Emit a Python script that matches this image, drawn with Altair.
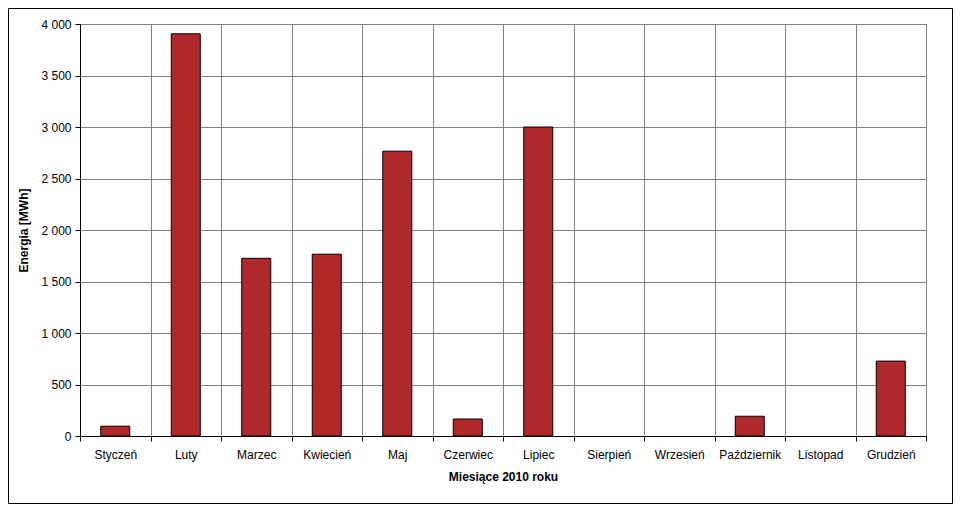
import altair as alt
import pandas as pd

months = ["Styczeń", "Luty", "Marzec", "Kwiecień", "Maj", "Czerwiec", "Lipiec",
          "Sierpień", "Wrzesień", "Październik", "Listopad", "Grudzień"]
values = [95, 3905, 1725, 1765, 2765, 165, 3000, 0, 0, 192, 0, 727]
y_ticks = [0, 500, 1000, 1500, 2000, 2500, 3000, 3500, 4000]

df = pd.DataFrame({"miesiac": months, "energia": values})
FONT = "Liberation Sans"

bars = alt.Chart(df).transform_filter(
    "datum.energia > 0"
).mark_bar(
    size=29, color="#B0292A", stroke="black", strokeWidth=1
).encode(
    x=alt.X("miesiac:N", sort=months,
            scale=alt.Scale(domain=months, paddingInner=0, paddingOuter=0),
            axis=alt.Axis(title="Miesiące 2010 roku", tickBand="extent", labelAngle=0,
                          grid=True, gridColor="#808080", gridWidth=1,
                          domainColor="black", tickColor="black", tickSize=5,
                          labelPadding=8, titlePadding=11)),
    y=alt.Y("energia:Q", scale=alt.Scale(domain=[0, 4000], nice=False),
            axis=alt.Axis(title="Energia [MWh]", values=y_ticks,
                          labelExpr="replace(format(datum.value, ',d'), ',', ' ')",
                          grid=True, gridColor="#808080", gridWidth=1,
                          domainColor="black", tickColor="black", tickSize=5,
                          labelPadding=4, titlePadding=10)),
)

frame = alt.Chart(pd.DataFrame({"a": [0]})).mark_rect(
    fill="transparent", stroke="black", strokeWidth=1
).encode(
    x=alt.value(-71.5), x2=alt.value(872.5), y=alt.value(-15.5), y2=alt.value(479.5)
)

chart = alt.layer(bars, frame).properties(
    width=846, height=412,
    autosize=alt.AutoSizeParams(type="none"),
    padding={"left": 72, "top": 16, "right": 27, "bottom": 68},
    background="white",
).configure_view(
    stroke="black", strokeWidth=1
).configure_axis(
    labelFont=FONT, labelFontSize=12, labelColor="black",
    titleFont=FONT, titleFontSize=12, titleFontWeight="bold", titleColor="black",
)

chart.save("out.html", embed_options={"renderer": "svg", "actions": False})
